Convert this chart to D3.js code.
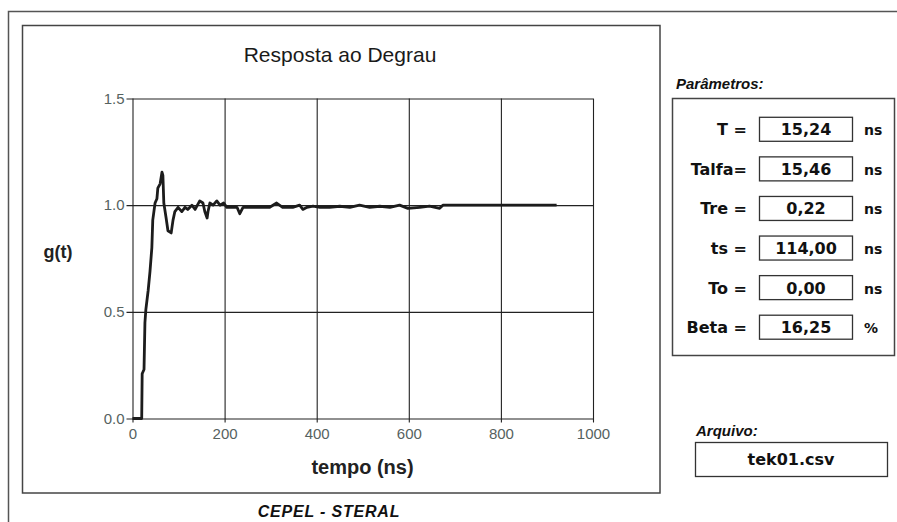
<!DOCTYPE html>
<html lang="pt">
<meta charset="utf-8">
<head>
    <script src="https://d3js.org/d3.v7.min.js"></script>
    <style>
        body { margin: 0; background: #fff; }
        text { font-family: "Liberation Sans", Arial, sans-serif; }
    </style>
</head>
<body>
<script>
// step response (ns, g(t))
const timeNs = [0, 20, 21, 25, 27, 29, 34, 38, 42, 44, 49, 53, 55, 60, 64, 66, 68, 73, 77, 84,
    88, 92, 99, 107, 114, 120, 129, 136, 146, 153, 157, 162, 164, 168, 175, 183, 190, 198, 205,
    216, 227, 233, 240, 255, 277, 298, 313, 326, 348, 363, 370, 379, 392, 407, 428, 450, 472,
    493, 515, 537, 559, 580, 598, 624, 645, 667, 674, 710, 797, 862, 921];
const gValues = [0, 0, 0.21, 0.23, 0.45, 0.51, 0.60, 0.69, 0.80, 0.93, 1.01, 1.03, 1.08, 1.10,
    1.155, 1.14, 1.01, 0.94, 0.88, 0.87, 0.93, 0.97, 0.99, 0.97, 0.99, 0.98, 1.0, 0.98, 1.02,
    1.01, 0.97, 0.94, 0.97, 1.01, 1.0, 1.02, 1.0, 1.01, 0.99, 0.99, 0.99, 0.96, 0.99, 0.99,
    0.99, 0.99, 1.01, 0.99, 0.99, 1.0, 0.98, 0.99, 0.995, 0.99, 0.99, 0.995, 0.99, 1.0, 0.99,
    0.995, 0.99, 1.0, 0.985, 0.99, 0.995, 0.985, 1.0, 1.0, 1.0, 1.0, 1.0];

const xTicks = [0, 200, 400, 600, 800, 1000];
const yTicks = [0, 0.5, 1.0, 1.5];

const paramLabels = ["T =", "Talfa=", "Tre =", "ts =", "To =", "Beta ="];
const paramValues = ["15,24", "15,46", "0,22", "114,00", "0,00", "16,25"];
const paramUnits = ["ns", "ns", "ns", "ns", "ns", "%"];
const fileName = "tek01.csv";

const width = 897, height = 522;
const plot = {left: 132.5, right: 593, top: 98.5, bottom: 418.5};

const svg = d3.select("body").append("svg")
    .attr("width", width)
    .attr("height", height);

svg.append("rect").attr("width", width).attr("height", height).attr("fill", "#fff");

// outer frame (only top and left are visible)
svg.append("path")
    .attr("d", "M8.5,522 V11.5 H897")
    .attr("fill", "none")
    .attr("stroke", "#555")
    .attr("stroke-width", 1.5);

// chart box
svg.append("rect")
    .attr("x", 22.5).attr("y", 25.5)
    .attr("width", 637.5).attr("height", 467.5)
    .attr("fill", "none")
    .attr("stroke", "#444")
    .attr("stroke-width", 1.5);

const x = d3.scaleLinear().domain([0, 1000]).range([plot.left, plot.right]);
const y = d3.scaleLinear().domain([0, 1.5]).range([plot.bottom, plot.top]);

// X axis + vertical grid
const xAxis = svg.append("g")
    .attr("transform", "translate(0," + (plot.bottom + 4) + ")")
    .call(d3.axisBottom(x).tickValues(xTicks)
        .tickSize(-(plot.bottom - plot.top + 4))
        .tickPadding(5.5)
        .tickFormat(d3.format("d")));
xAxis.select(".domain").remove();

// Y axis + horizontal grid
const yAxis = svg.append("g")
    .attr("transform", "translate(" + (plot.left - 6) + ",0)")
    .call(d3.axisLeft(y).tickValues(yTicks)
        .tickSize(-(plot.right - plot.left + 6))
        .tickPadding(2)
        .tickFormat(d3.format(".1f")));
yAxis.select(".domain").remove();

svg.selectAll(".tick line").attr("stroke", "#222").attr("stroke-width", 1.1);
svg.selectAll(".tick text")
    .attr("fill", "#56625f")
    .style("font-size", "15px");

// step response curve
const pts = timeNs.map((t, i) => ({t: t, g: gValues[i]}));
svg.append("path")
    .datum(pts)
    .attr("fill", "none")
    .attr("stroke", "#1c1c1c")
    .attr("stroke-width", 2.8)
    .attr("stroke-linejoin", "round")
    .attr("d", d3.line()
        .x(d => x(d.t))
        .y(d => y(d.g)));

// titles
svg.append("text")
    .attr("x", 340).attr("y", 61.5)
    .attr("text-anchor", "middle")
    .attr("fill", "#1a1a1a")
    .style("font-size", "21px")
    .text("Resposta ao Degrau");

svg.append("text")
    .attr("x", 58).attr("y", 258)
    .attr("text-anchor", "middle")
    .attr("fill", "#222")
    .style("font-size", "18px")
    .style("font-weight", "bold")
    .text("g(t)");

svg.append("text")
    .attr("x", 362.5).attr("y", 474)
    .attr("text-anchor", "middle")
    .attr("fill", "#222")
    .style("font-size", "20px")
    .style("font-weight", "bold")
    .text("tempo (ns)");

svg.append("text")
    .attr("x", 329).attr("y", 517)
    .attr("text-anchor", "middle")
    .attr("fill", "#111")
    .style("font-size", "16px")
    .style("font-weight", "bold")
    .style("font-style", "italic")
    .style("letter-spacing", "0.8px")
    .text("CEPEL - STERAL");

// parameters panel
svg.append("text")
    .attr("x", 676).attr("y", 89)
    .attr("fill", "#111")
    .style("font-size", "15px")
    .style("font-weight", "bold")
    .style("font-style", "italic")
    .text("Parâmetros:");

svg.append("rect")
    .attr("x", 672.5).attr("y", 98.5)
    .attr("width", 222).attr("height", 257)
    .attr("fill", "none")
    .attr("stroke", "#444")
    .attr("stroke-width", 1.5);

const rowY = d3.scaleBand().domain(paramLabels).range([109.5, 347]);

const rows = svg.append("g").selectAll("g")
    .data(paramLabels)
    .join("g")
    .attr("transform", d => "translate(0," + (rowY(d) + rowY.bandwidth() / 2) + ")");

const panelFont = "'DejaVu Sans', sans-serif";

rows.append("text")
    .attr("x", 747).attr("y", 6)
    .attr("text-anchor", "end")
    .attr("fill", "#111")
    .style("font-family", panelFont)
    .style("font-size", "16px")
    .style("font-weight", "bold")
    .text(d => d);

rows.append("rect")
    .attr("x", 759.5).attr("y", -12)
    .attr("width", 93).attr("height", 24)
    .attr("fill", "#fff")
    .attr("stroke", "#333")
    .attr("stroke-width", 1.3);

rows.append("text")
    .attr("x", 806).attr("y", 6)
    .attr("text-anchor", "middle")
    .attr("fill", "#111")
    .style("font-family", panelFont)
    .style("font-size", "16px")
    .style("font-weight", "bold")
    .text((d, i) => paramValues[i]);

rows.append("text")
    .attr("x", 864).attr("y", 6)
    .attr("fill", "#111")
    .style("font-family", panelFont)
    .style("font-size", "14px")
    .style("font-weight", "bold")
    .text((d, i) => paramUnits[i]);

// file box
svg.append("text")
    .attr("x", 696).attr("y", 436)
    .attr("fill", "#111")
    .style("font-size", "15px")
    .style("font-weight", "bold")
    .style("font-style", "italic")
    .text("Arquivo:");

svg.append("rect")
    .attr("x", 695.5).attr("y", 442.5)
    .attr("width", 192).attr("height", 34)
    .attr("fill", "none")
    .attr("stroke", "#333")
    .attr("stroke-width", 1.3);

svg.append("text")
    .attr("x", 791).attr("y", 465)
    .attr("text-anchor", "middle")
    .attr("fill", "#111")
    .style("font-family", panelFont)
    .style("font-size", "16px")
    .style("font-weight", "bold")
    .text(fileName);
</script>
</body>
</html>
